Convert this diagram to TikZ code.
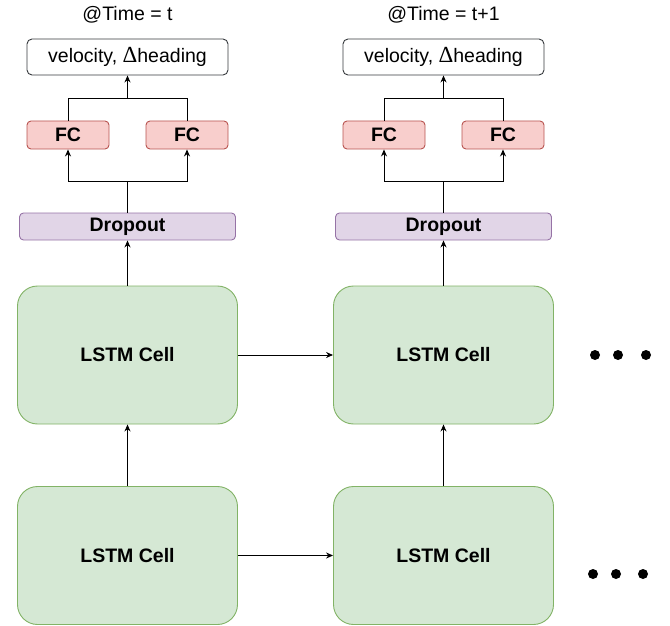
\documentclass[tikz,border=0pt]{standalone}
\usepackage{fontspec}
\setmainfont{Liberation Sans}
\newfontfamily\deltafont{Liberation Serif}
\usetikzlibrary{arrows.meta}
\definecolor{gfill}{HTML}{D5E8D4}
\definecolor{gline}{HTML}{82B366}
\definecolor{rfill}{HTML}{F8CECC}
\definecolor{rline}{HTML}{B85450}
\definecolor{pfill}{HTML}{E1D5E7}
\definecolor{pline}{HTML}{9673A6}
\definecolor{oline}{HTML}{36393D}
\tikzset{
  txt/.style={font=\fontsize{19.5pt}{22pt}\selectfont},
  outbox/.style={draw=oline, fill=white, rounded corners=5pt, minimum width=201pt, minimum height=36pt, inner sep=0pt, line width=0.9pt, font=\fontsize{19.5pt}{22pt}\selectfont},
  fcbox/.style={draw=rline, fill=rfill, rounded corners=4pt, minimum width=82pt, minimum height=28pt, inner sep=0pt, line width=0.9pt, font=\fontsize{19.5pt}{22pt}\selectfont\bfseries},
  dropbox/.style={draw=pline, fill=pfill, rounded corners=4pt, minimum width=216pt, minimum height=27pt, inner sep=0pt, line width=0.9pt, font=\fontsize{19.5pt}{22pt}\selectfont\bfseries},
  lstmbox/.style={draw=gline, fill=gfill, rounded corners=20pt, minimum width=220pt, minimum height=138pt, inner sep=0pt, line width=0.9pt, font=\fontsize{19.5pt}{22pt}\selectfont\bfseries},
  conn/.style={line width=0.9pt, draw=black},
  arr/.style={conn, -{Stealth[length=7pt,width=6pt]}},
  dot/.style={circle, fill=black, inner sep=0pt, minimum size=10pt},
}
\newcommand{\bigdelta}{{\deltafont\fontsize{23pt}{23pt}\selectfont Δ}}
\begin{document}
\begin{tikzpicture}[x=1pt,y=-1pt]
\useasboundingbox (0,0) rectangle (670,626);
\foreach \c/\dx/\lab in {1/0/{@Time = t}, 2/316/{@Time = t+1}} {
  \node[txt] (time\c) at (127.5+\dx,15) {\lab};
  \node[outbox] (out\c) at (127.5+\dx,57) {velocity, \bigdelta heading};
  \node[fcbox] (fcL\c) at (68+\dx,135) {FC};
  \node[fcbox] (fcR\c) at (187+\dx,135) {FC};
  \node[dropbox] (drop\c) at (127.5+\dx,226.5) {Dropout};
  \node[lstmbox] (lstmA\c) at (127.5+\dx,355) {LSTM Cell};
  \node[lstmbox] (lstmB\c) at (127.5+\dx,555.5) {LSTM Cell};
  \coordinate (j\c) at (127.5+\dx,181);
  \coordinate (k\c) at (127.5+\dx,98);
  \draw[conn] (drop\c.north) -- (j\c);
  \draw[arr] (j\c) -| (fcL\c.south);
  \draw[arr] (j\c) -| (fcR\c.south);
  \draw[conn] (fcL\c.north) |- (k\c);
  \draw[conn] (fcR\c.north) |- (k\c);
  \draw[arr] (k\c) -- (out\c.south);
  \draw[arr] (lstmA\c.north) -- (drop\c.south);
  \draw[arr] (lstmB\c.north) -- (lstmA\c.south);
}
\draw[arr] (lstmA1.east) -- (lstmA2.west);
\draw[arr] (lstmB1.east) -- (lstmB2.west);
\node[dot] (d1) at (595,355) {};
\node[dot] (d2) at (618,355) {};
\node[dot] (d3) at (646,355) {};
\node[dot] (d4) at (593,574) {};
\node[dot] (d5) at (616,574) {};
\node[dot] (d6) at (643,574) {};
\end{tikzpicture}
\end{document}
